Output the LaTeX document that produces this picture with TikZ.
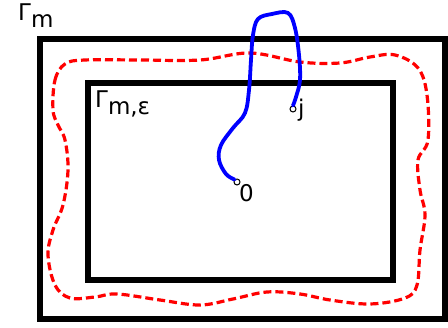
\documentclass[tikz,border=0pt]{standalone}
\usepackage{fontspec}
\setmainfont{DejaVu Sans}
\usepackage{tikz}
\usetikzlibrary{positioning,calc}
\usepackage{xcolor}
\definecolor{walkblue}{RGB}{0,0,255}
\definecolor{curvered}{RGB}{255,0,0}

\begin{document}
\begin{tikzpicture}[
  x=1pt,y=-1pt,
  box/.style={draw=black,line width=6.5pt},
  loopline/.style={draw=curvered,line width=3.2pt,dash pattern=on 8pt off 4pt},
  walk/.style={draw=walkblue,line width=3.8pt,line cap=round},
  site/.style={circle,draw=black,fill=white,line width=1pt,inner sep=0pt,minimum size=6pt},
  lab/.style={font=\fontsize{23}{27}\selectfont,inner sep=0pt}
]
\useasboundingbox (0,0) rectangle (448,328);

% OUTER and INNER boxes
\draw[box] (40,39) rectangle (445,319);
\draw[box] (88,83) rectangle (393,280);

% RED: dashed closed curve between the boxes
\draw[loopline] plot[smooth cycle,tension=0.6] coordinates {
  (53,110) (55,80) (65,64) (85,60) (140,60) (200,60) (250,53) (300,62)
  (340,63) (370,57) (395,55) (418,68) (427,95) (428,140) (418,160)
  (420,190) (425,215) (420,250) (417,285) (405,298) (370,304) (330,300)
  (300,294) (267,292) (233,299) (200,305) (160,300) (117,294) (95,297)
  (70,298) (55,285) (48,255) (53,230) (63,205) (68,170) (65,140) (58,125)};

% SITES: 0 and j
\node[site] (o0) at (237,182) {};
\node[site] (oj) at (293,109) {};

% BLUE: path from 0 to j
\draw[walk] plot[smooth,tension=0.6] coordinates {
  (o0.north west) (226,174) (219,160) (221,145) (233,128) (245,113)
  (249,90) (251,60) (253,35) (258,19) (272,14) (288,13) (295,28)
  (299,55) (300,80) (296,97) (oj.north)};

% LABELS
\node[lab,anchor=north west] (gm) at (18,4) {Γ\raisebox{-7pt}{m}};
\node[lab,anchor=north west] (gme) at (95,91) {Γ\raisebox{-7pt}{m,ε}};
\node[lab,anchor=north west] (l0) at (239,184) {0};
\node[lab,anchor=north west] (lj) at (298,99) {j};

\end{tikzpicture}
\end{document}
